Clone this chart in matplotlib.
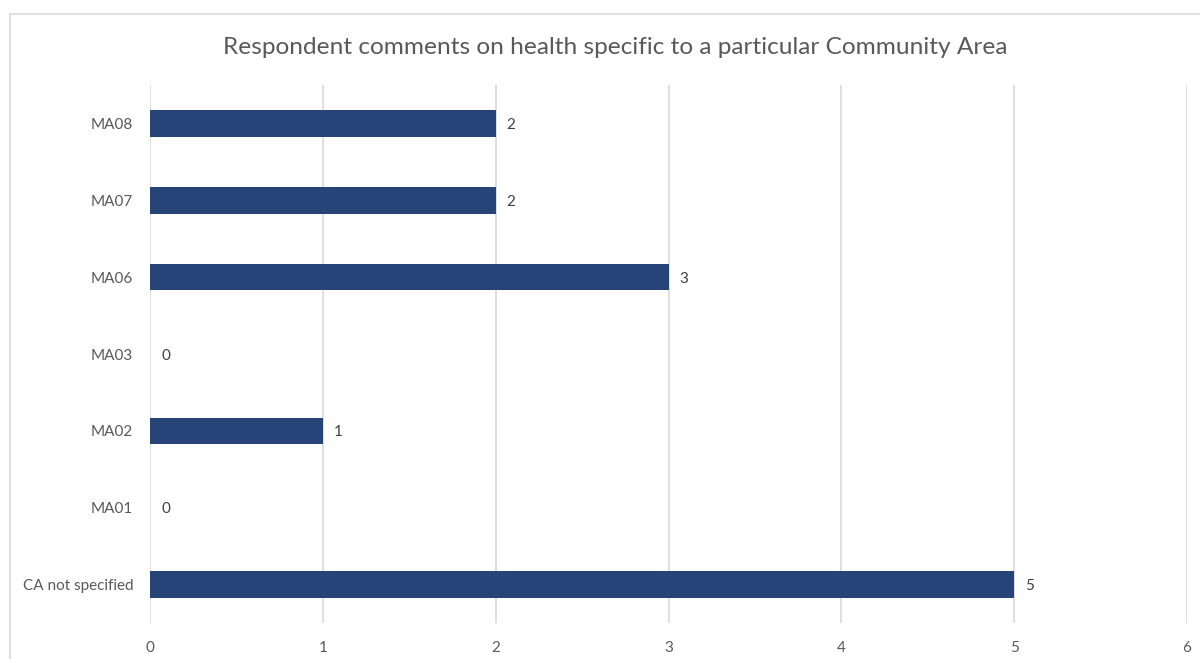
import matplotlib
matplotlib.use("Agg")
import matplotlib.pyplot as plt
from matplotlib.lines import Line2D

# Comment counts per community area (bottom to top)
areas = ["CA not specified", "MA01", "MA02", "MA03", "MA06", "MA07", "MA08"]
comments = [5, 0, 1, 0, 3, 2, 2]
x_ticks = [0, 1, 2, 3, 4, 5, 6]

TITLE = "Respondent comments on health specific to a particular Community Area"
BAR_COLOR = "#264478"
TEXT_COLOR = "#595959"
GRID_COLOR = "#d9d9d9"

plt.rcParams["font.family"] = ["Lato", "DejaVu Sans"]

fig = plt.figure(figsize=(12, 6.59), dpi=100)
ax = fig.add_axes([150 / 1200, 1 - 623 / 659, 1037 / 1200, 538 / 659])

ypos = list(range(len(areas)))
ax.barh(ypos, comments, height=0.345, color=BAR_COLOR, zorder=3)

for y, v in zip(ypos, comments):
    ax.annotate(f"{v}", xy=(v, y), xytext=(8, 0), textcoords="offset points",
                va="center_baseline", ha="left", fontsize=11, color="#404040")

ax.set_xlim(0, 6)
ax.set_ylim(-0.5, len(areas) - 0.5)
ax.set_xticks(x_ticks)
ax.set_yticks(ypos)
ax.set_yticklabels(areas)
ax.tick_params(axis="both", length=0, labelsize=11, labelcolor=TEXT_COLOR)
ax.tick_params(axis="x", pad=13)
ax.tick_params(axis="y", pad=12)
ax.grid(axis="x", color=GRID_COLOR, linewidth=1.2, zorder=0)
for side in ax.spines.values():
    side.set_visible(False)

fig.text(0.5125, 1 - 47 / 659, TITLE, ha="center", va="center",
         fontsize=17.6, color=TEXT_COLOR)

# chart frame (top and left edges fall inside the image)
fig.add_artist(Line2D([10 / 1200, 1.0], [1 - 14 / 659, 1 - 14 / 659],
                      color=GRID_COLOR, linewidth=1.2))
fig.add_artist(Line2D([10 / 1200, 10 / 1200], [0, 1 - 14 / 659],
                      color=GRID_COLOR, linewidth=1.2))

fig.savefig("out.png", dpi=100)
